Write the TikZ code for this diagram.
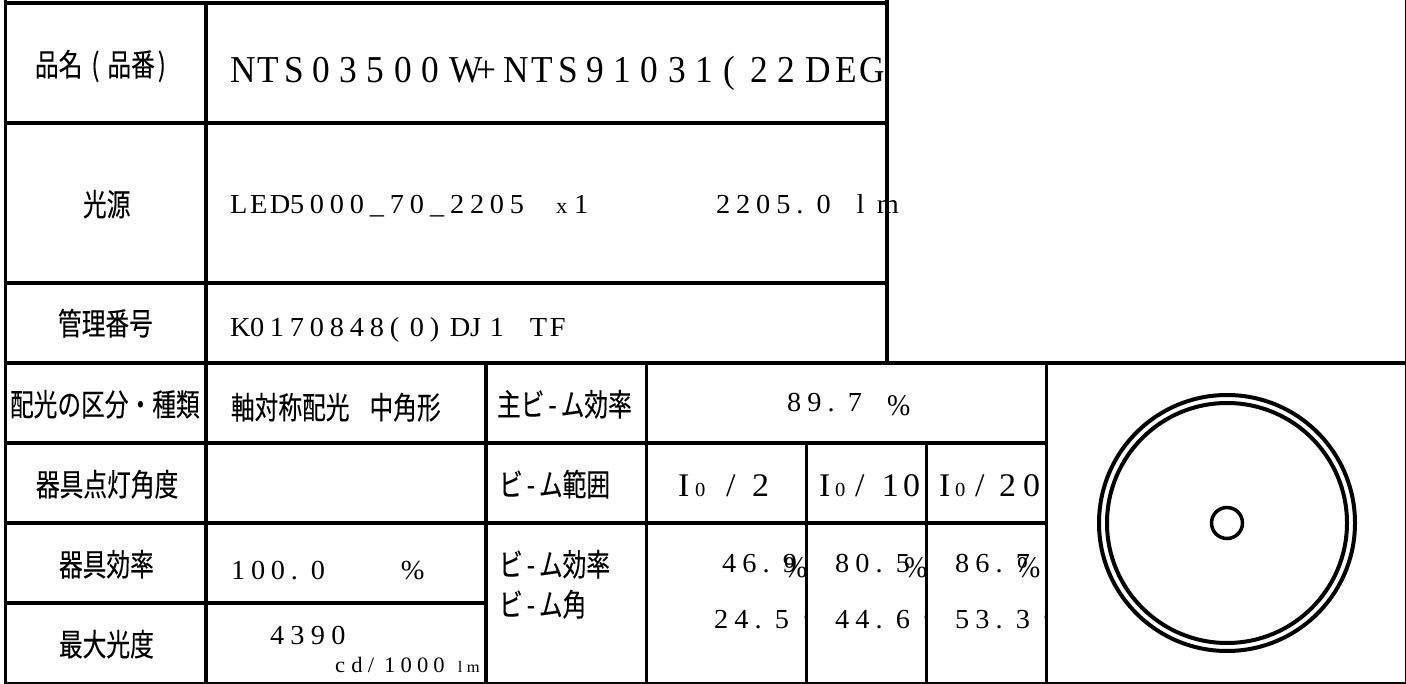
\documentclass[tikz,border=0pt]{standalone}
\usepackage{fontspec}
\setmainfont{Liberation Serif}
\newfontfamily\tms[FakeStretch=0.93]{Liberation Serif}
\newfontfamily\tmw[FakeStretch=1.03]{Liberation Serif}
\newfontfamily\jpf[FakeStretch=0.765,FakeBold=0.15]{Noto Sans CJK JP}
\newcommand\ptx[2]{\def\ptw{#1}\ptloop#2\relax}
\def\ptloop#1{\ifx#1\relax\else\makebox[\ptw pt][l]{#1}\expandafter\ptloop\fi}
\newcommand\wb[2]{\makebox[#1pt][l]{#2}}
\newcommand\fs[1]{\fontsize{#1}{#1}\selectfont}
\tikzset{
  x=1pt,y=-1pt,
  tx/.style={anchor=base west,inner sep=0pt,outer sep=0pt,text=black},
  big/.style={tx,font=\tms\fs{38}},
  std/.style={tx,font=\tmw\fs{27.5}},
  mid/.style={tx,font=\tmw\fs{33}},
  sml/.style={tx,font=\tmw\fs{22}},
  pct/.style={tx,font=\tms\fs{30}},
  deg/.style={anchor=center,inner sep=0pt,outer sep=0pt,font=\tms\fs{12},text=black!70},
  jp/.style={tx,font=\jpf\fs{31}},
  rule/.style={line width=3.6pt,line cap=butt,black},
  thin edge/.style={line width=2pt,black},
  ring/.style={line width=4pt,black},
  hub/.style={line width=3.5pt,black},
}
\begin{document}
\begin{tikzpicture}
\useasboundingbox[fill=white] (0,0) rectangle (1406,684);
% degree marks lie under the rules
\node[deg] (d1) at (806,620) {°};
\node[deg] (d2) at (926,620) {°};
\node[deg] (d3) at (1046,620) {°};
% rules
\draw[rule] (5,3) -- (888,3);
\draw[rule] (5,123) -- (887,123);
\draw[rule] (5,283) -- (887,283);
\draw[rule] (5,363) -- (1406,363);
\draw[rule] (5,443) -- (1047,443);
\draw[rule] (5,523) -- (1047,523);
\draw[rule] (5,603) -- (486,603);
\draw[thin edge] (5,683) -- (1406,683);
\draw[rule] (5.5,0) -- (5.5,684);
\draw[rule] (206,3) -- (206,684);
\draw[rule] (887,0) -- (887,363);
\draw[rule] (486,363) -- (486,684);
\draw[rule] (646.5,363) -- (646.5,684);
\draw[rule] (806.5,443) -- (806.5,684);
\draw[rule] (926.5,443) -- (926.5,684);
\draw[rule] (1046.5,363) -- (1046.5,684);
\draw[thin edge] (1405.5,0) -- (1405.5,684);
% lamp face
\draw[ring] (1227,523) circle[radius=128];
\draw[ring] (1227,523) circle[radius=120];
\draw[hub] (1227,523) circle[radius=15.5];
% upper block
\node[jp] (a1) at (35,76) {品名\wb{8}{}\wb{17}{\kern1pt (}品番\kern3pt )};
\node[big] (a2) at (230,83) {\ptx{27.4}{NTS03500W+NTS91031(22}\wb{30.5}{D}\wb{24}{E}G};
\node[jp] (b1) at (83,216) {光源};
\node[std] (b2) at (230,214) {\ptx{20}{LED5000\_70\_2205}\kern26pt\wb{18}{\fs{22}x}1};
\node[std] (b3) at (716,214) {\ptx{20.1}{2205.0~lm}};
\node[jp] (c1) at (58,335) {管理番号};
\node[std] (c2) at (230,337) {\ptx{20}{K0170848(0)DJ1~TF}};
% lower block, labels
\node[jp] (r1) at (10,416) {配光の区分・種類};
\node[jp] (r1v) at (231,419) {軸対称配光\kern20pt 中角形};
\node[jp] (r2) at (36,496) {器具点灯角度};
\node[jp] (r3) at (59,576) {器具効率};
\node[std] (r3v) at (231,579) {\ptx{20}{100.0}\kern70pt\%};
\node[jp] (r4) at (59,656) {最大光度};
\node[std] (r4v) at (270,644) {\ptx{20.5}{4390}};
\node[sml] (r4u) at (335,672) {\ptx{16.4}{cd/1000}\kern8pt\fs{16}\ptx{9}{lm}};
\node[jp] (s1) at (497,416) {主ビ\kern4pt-\kern4pt ム効率};
\node[jp] (s2) at (499,496) {ビ\kern4pt-\kern4pt ム範囲};
\node[jp] (s3) at (499,576) {ビ\kern4pt-\kern4pt ム効率};
\node[jp] (s4) at (499,616) {ビ\kern4pt-\kern4pt ム角};
% beam values
\node[std] (v0) at (787,412) {\ptx{20.3}{89.7}};
\node[pct] (v0p) at (887,416) {\%};
\node[mid] (i1) at (678,496) {\wb{17}{I}\wb{31}{\fs{20}0}\wb{26}{/}2};
\node[mid] (i2) at (819,496) {\wb{16}{I}\wb{20}{\fs{20}0}\wb{27}{/}\wb{21}{1}0};
\node[mid] (i3) at (939,496) {\wb{16}{I}\wb{20}{\fs{20}0}\wb{24}{/}\wb{24}{2}0};
\node[std] (e1) at (722,572) {\ptx{20.3}{46.9}};
\node[pct] (e1p) at (784,577) {\%};
\node[std] (e2) at (835,572) {\ptx{20.3}{80.5}};
\node[pct] (e2p) at (904,577) {\%};
\node[std] (e3) at (955,572) {\ptx{20.3}{86.7}};
\node[pct] (e3p) at (1017,577) {\%};
\node[std] (g1) at (714,628) {\ptx{20.3}{24.5}};
\node[std] (g2) at (835,628) {\ptx{20.3}{44.6}};
\node[std] (g3) at (955,628) {\ptx{20.3}{53.3}};
\end{tikzpicture}
\end{document}
